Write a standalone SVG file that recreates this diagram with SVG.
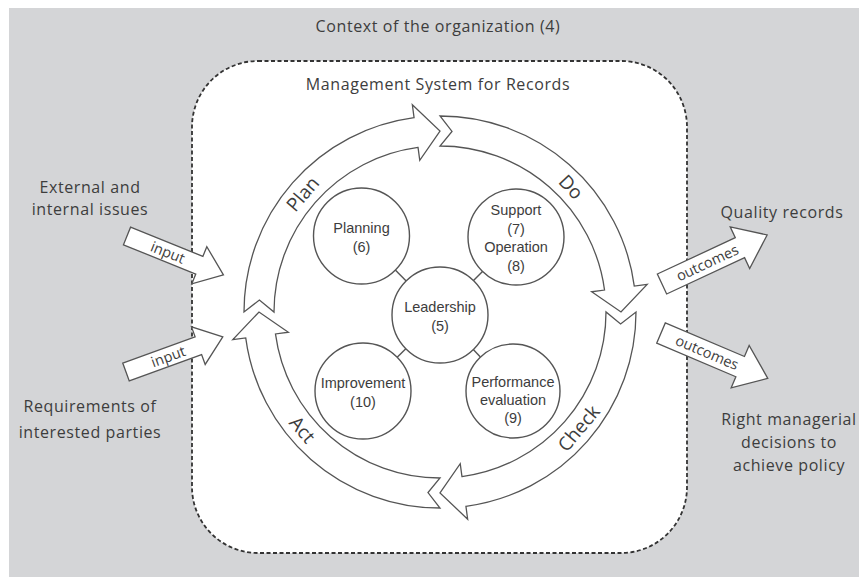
<svg xmlns="http://www.w3.org/2000/svg" width="859" height="577" viewBox="0 0 859 577">
<style>
.lbl{font-family:"Open Sans","Noto Sans",sans-serif;fill:#3d3d3d;text-anchor:middle}
.ctx{font-size:16px;letter-spacing:0.6px}
.ring{font-size:19px}
.blk{font-size:14.5px}
.node circle{fill:#fff;stroke:#555;stroke-width:1.4}
.node text{font-family:"Liberation Sans",Arial,sans-serif;font-size:14.5px;fill:#3d3d3d;text-anchor:middle}
.arr{fill:#fff;stroke:#555;stroke-width:1.3;stroke-linejoin:miter}
.conn line{stroke:#555;stroke-width:1.4}
</style>
<rect x="0" y="0" width="859" height="577" fill="#fff"/>
<rect x="9" y="8" width="850" height="569" fill="#d4d5d7"/>
<rect x="192" y="61" width="495" height="492" rx="66" ry="66" fill="#fff" stroke="#333" stroke-width="1.8" stroke-dasharray="4 2.5"/>
<text class="lbl ctx" x="438" y="32">Context of the organization (4)</text>
<text class="lbl ctx" x="438" y="90">Management System for Records</text>

<g id="cycle">
<path id="plan-arrow" class="arr" d="M244,312 A196,196 0 0 1 414.07,117.72 L412.35,104.84 L440,131 L419.76,160.35 L418.04,147.46 A166,166 0 0 0 274,312 L259.4,300 Z"/>
<path id="do-arrow" class="arr" d="M440,116 A196,196 0 0 1 634.28,286.07 L647.16,284.35 L621,312 L591.65,291.76 L604.54,290.04 A166,166 0 0 0 440,146 L452,131.4 Z"/>
<path id="check-arrow" class="arr" d="M636,312 A196,196 0 0 1 465.93,506.28 L467.65,519.16 L440,493 L460.24,463.65 L461.96,476.54 A166,166 0 0 0 606,312 L620.6,324 Z"/>
<path id="act-arrow" class="arr" d="M440,508 A196,196 0 0 1 245.72,337.93 L232.84,339.65 L259,312 L288.35,332.24 L275.46,333.96 A166,166 0 0 0 440,478 L428,492.6 Z"/>
<text class="lbl ring" transform="translate(302.8,194) rotate(-49.3)" dy="0.35em">Plan</text>
<text class="lbl ring" transform="translate(571,187) rotate(46.4)" dy="0.35em">Do</text>
<text class="lbl ring" transform="translate(578.7,428.3) rotate(-50)" dy="0.35em">Check</text>
<text class="lbl ring" transform="translate(302.4,429.6) rotate(49.5)" dy="0.35em">Act</text>
</g>

<g id="connectors" class="conn">
<line x1="406.2" y1="281" x2="395.3" y2="270"/>
<line x1="473.5" y1="280.6" x2="482.5" y2="271.4"/>
<line x1="405.8" y1="348.7" x2="397.2" y2="357.3"/>
<line x1="473.3" y1="349.6" x2="480.4" y2="357.1"/>
</g>

<g id="leadership" class="node"><circle cx="440" cy="315" r="48"/><text x="440" y="312">Leadership</text><text x="440" y="331">(5)</text></g>
<g id="planning" class="node"><circle cx="361.5" cy="236" r="48"/><text x="361.5" y="233">Planning</text><text x="361.5" y="252">(6)</text></g>
<g id="support" class="node"><circle cx="516" cy="237" r="48"/><text x="516" y="215">Support</text><text x="516" y="234">(7)</text><text x="516" y="252">Operation</text><text x="516" y="271">(8)</text></g>
<g id="improvement" class="node"><circle cx="363" cy="391" r="48"/><text x="363" y="388">Improvement</text><text x="363" y="407">(10)</text></g>
<g id="performance" class="node"><circle cx="513" cy="391" r="47"/><text x="513" y="387">Performance</text><text x="513" y="405">evaluation</text><text x="513" y="423">(9)</text></g>

<g id="external-issues"><text class="lbl ctx" x="90" y="193">External and</text><text class="lbl ctx" x="90" y="215">internal issues</text></g>
<g id="requirements"><text class="lbl ctx" x="90" y="412">Requirements of</text><text class="lbl ctx" x="90" y="438">interested parties</text></g>
<g id="quality-records"><text class="lbl ctx" x="782" y="218">Quality records</text></g>
<g id="decisions"><text class="lbl ctx" x="789" y="425">Right managerial</text><text class="lbl ctx" x="789" y="448">decisions to</text><text class="lbl ctx" x="789" y="471">achieve policy</text></g>

<g id="io-arrows">
<g transform="translate(127,236) rotate(22)"><path class="arr" d="M0,-9.5 L78,-9.5 L78,-20 L104,0 L78,20 L78,9.5 L0,9.5 Z"/><text class="lbl blk" x="44" y="0" dy="0.35em">input</text></g>
<g transform="translate(126,372) rotate(-20)"><path class="arr" d="M0,-9.5 L77,-9.5 L77,-20 L103,0 L77,20 L77,9.5 L0,9.5 Z"/><text class="lbl blk" x="45" y="0" dy="0.35em">input</text></g>
<g transform="translate(662,284) rotate(-25)"><path class="arr" d="M0,-11 L86,-11 L86,-23 L116,0 L86,23 L86,11 L0,11 Z"/><text class="lbl blk" x="50" y="0" dy="0.35em">outcomes</text></g>
<g transform="translate(661,333) rotate(23)"><path class="arr" d="M0,-11 L86,-11 L86,-23 L116,0 L86,23 L86,11 L0,11 Z"/><text class="lbl blk" x="50" y="0" dy="0.35em">outcomes</text></g>
</g>
</svg>
